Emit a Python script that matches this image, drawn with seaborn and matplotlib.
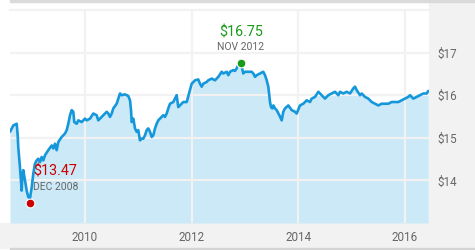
import matplotlib
matplotlib.use("Agg")
import matplotlib.pyplot as plt
import seaborn as sns
import pandas as pd
from matplotlib.patches import Rectangle

# ---- data ----
years = [2008.594, 2008.656, 2008.719, 2008.738, 2008.749, 2008.781, 2008.800, 2008.813, 2008.824, 2008.843,
         2008.875, 2008.907, 2008.937, 2008.969, 2009.001, 2009.031, 2009.062, 2009.094, 2009.124, 2009.156,
         2009.188, 2009.218, 2009.250, 2009.312, 2009.376, 2009.406, 2009.437, 2009.469, 2009.499, 2009.563,
         2009.625, 2009.657, 2009.687, 2009.719, 2009.751, 2009.781, 2009.799, 2009.844, 2009.874, 2009.938,
         2010.000, 2010.032, 2010.094, 2010.156, 2010.219, 2010.249, 2010.281, 2010.343, 2010.407, 2010.437,
         2010.469, 2010.501, 2010.531, 2010.594, 2010.624, 2010.656, 2010.688, 2010.750, 2010.812, 2010.844,
         2010.863, 2010.876, 2010.906, 2010.938, 2010.969, 2010.999, 2011.031, 2011.063, 2011.093, 2011.125,
         2011.157, 2011.187, 2011.219, 2011.251, 2011.281, 2011.313, 2011.344, 2011.374, 2011.406, 2011.438,
         2011.468, 2011.500, 2011.532, 2011.562, 2011.594, 2011.626, 2011.656, 2011.688, 2011.719, 2011.749,
         2011.781, 2011.813, 2011.843, 2011.907, 2011.937, 2011.969, 2012.001, 2012.063, 2012.124, 2012.156,
         2012.188, 2012.218, 2012.282, 2012.312, 2012.376, 2012.438, 2012.499, 2012.563, 2012.593, 2012.657,
         2012.687, 2012.719, 2012.781, 2012.813, 2012.844, 2012.875, 2012.900, 2012.938, 2012.968, 2013.000,
         2013.062, 2013.126, 2013.156, 2013.188, 2013.220, 2013.281, 2013.343, 2013.375, 2013.407, 2013.437,
         2013.469, 2013.488, 2013.512, 2013.531, 2013.563, 2013.594, 2013.656, 2013.688, 2013.718, 2013.750,
         2013.812, 2013.876, 2013.938, 2013.969, 2014.031, 2014.093, 2014.157, 2014.219, 2014.251, 2014.313,
         2014.375, 2014.438, 2014.500, 2014.562, 2014.626, 2014.688, 2014.750, 2014.781, 2014.843, 2014.907,
         2014.969, 2015.031, 2015.063, 2015.094, 2015.156, 2015.188, 2015.250, 2015.312, 2015.376, 2015.438,
         2015.500, 2015.563, 2015.625, 2015.687, 2015.751, 2015.813, 2015.875, 2015.938, 2016.000, 2016.062,
         2016.094, 2016.156, 2016.219, 2016.281, 2016.343, 2016.406, 2016.436]
prices = [15.14, 15.29, 15.33, 15.06, 14.78, 14.31, 14.00, 13.76, 14.08, 14.24,
          14.00, 13.76, 13.61, 13.58, 13.84, 14.16, 14.39, 14.47, 14.51, 14.43,
          14.55, 14.47, 14.59, 14.71, 14.82, 14.75, 14.86, 14.71, 14.90, 15.02,
          15.10, 15.18, 15.33, 15.53, 15.65, 15.61, 15.37, 15.33, 15.41, 15.37,
          15.45, 15.41, 15.45, 15.57, 15.53, 15.41, 15.45, 15.53, 15.61, 15.57,
          15.49, 15.57, 15.69, 15.80, 15.92, 16.04, 16.00, 16.02, 15.98, 15.88,
          15.65, 15.37, 15.45, 15.22, 15.14, 15.18, 14.94, 14.98, 14.98, 15.06,
          15.18, 15.22, 15.14, 15.02, 15.06, 15.22, 15.33, 15.41, 15.45, 15.49,
          15.53, 15.49, 15.57, 15.69, 15.80, 15.82, 15.84, 15.92, 16.00, 15.72,
          15.76, 15.80, 15.84, 15.84, 15.98, 16.12, 16.27, 16.35, 16.37, 16.27,
          16.20, 16.27, 16.31, 16.35, 16.39, 16.35, 16.43, 16.55, 16.51, 16.55,
          16.47, 16.55, 16.59, 16.57, 16.63, 16.71, 16.74, 16.67, 16.51, 16.55,
          16.55, 16.55, 16.51, 16.43, 16.47, 16.51, 16.55, 16.47, 16.35, 16.20,
          15.84, 15.72, 15.69, 15.76, 15.69, 15.65, 15.50, 15.41, 15.61, 15.69,
          15.76, 15.65, 15.61, 15.57, 15.76, 15.80, 15.88, 15.84, 15.92, 15.96,
          16.08, 16.00, 15.92, 16.00, 16.04, 16.08, 16.00, 16.08, 16.04, 16.08,
          16.04, 16.16, 16.20, 16.12, 16.00, 16.04, 15.96, 15.92, 15.84, 15.80,
          15.76, 15.80, 15.80, 15.80, 15.84, 15.84, 15.84, 15.88, 15.92, 15.96,
          16.00, 15.92, 15.96, 16.00, 16.04, 16.04, 16.10]

low_year, low_price = 2008.96, 13.47
low_value_label, low_date_label = "$13.47", "DEC 2008"
high_year, high_price = 2012.92, 16.75
high_value_label, high_date_label = "$16.75", "NOV 2012"

x_ticks = [2010, 2012, 2014, 2016]
x_tick_labels = ["2010", "2012", "2014", "2016"]
y_ticks = [14, 15, 16, 17]
y_tick_labels = ["$14", "$15", "$16", "$17"]

df = pd.DataFrame({"year": years, "price": prices})

# ---- style ----
sns.set_style("white")
plt.rcParams["font.family"] = ["Roboto", "DejaVu Sans"]

W, H = 475, 250
fig = plt.figure(figsize=(W / 100, H / 100), dpi=100)
fig.patch.set_facecolor("white")

panel = "#f2f2f2"
fig.patches.extend([
    Rectangle((0, 2 / H), 1, 25 / H, transform=fig.transFigure, color=panel, zorder=-5),
    Rectangle((429 / W, 2 / H), 46 / W, 246 / H, transform=fig.transFigure, color=panel, zorder=-5),
    Rectangle((10 / W, 0), 465 / W, 2 / H, transform=fig.transFigure, color="#d4d4d4", zorder=-5),
    Rectangle((10 / W, 248 / H), 465 / W, 2 / H, transform=fig.transFigure, color="#dadada", zorder=-5),
])

ax = fig.add_axes([10 / W, 27 / H, 419 / W, 213 / H])
ax.set_zorder(1)
ax.set_facecolor("white")

line_color = "#1597db"
fill_color = "#cbe9f7"

ax.fill_between(df["year"], df["price"], 13, color=fill_color, lw=0, zorder=1)
sns.lineplot(data=df, x="year", y="price", ax=ax, color=line_color, lw=1.9, zorder=3)

ax.set_xlim(2008.594, 2016.45)
ax.set_ylim(13, 18)

ax.set_xticks(x_ticks)
ax.set_xticklabels(x_tick_labels)
ax.set_yticks(y_ticks)
ax.set_yticklabels(y_tick_labels)
ax.yaxis.tick_right()
ax.tick_params(axis="both", length=0, labelsize=8.4, labelcolor="#666666")
ax.tick_params(axis="x", pad=6)
ax.tick_params(axis="y", pad=6)
ax.set_xlabel("")
ax.set_ylabel("")

ax.grid(True, color="#f2f2f2", lw=1.6, zorder=2)
ax.set_axisbelow(False)
for s in ["left", "right", "bottom"]:
    ax.spines[s].set_visible(False)
ax.spines["top"].set_color("#f2f2f2")
ax.spines["top"].set_linewidth(1.6)

# markers
sns.scatterplot(x=[low_year], y=[low_price], ax=ax, color="#cc0000", s=40,
                edgecolor="white", linewidth=0.8, zorder=5, clip_on=False, legend=False)
sns.scatterplot(x=[high_year], y=[high_price], ax=ax, color="#1a9a1a", s=40,
                edgecolor="white", linewidth=0.8, zorder=5, clip_on=False, legend=False)

ax.annotate(high_value_label, (high_year, high_price), xytext=(0, 22.5), textcoords="offset points",
            ha="center", va="center", fontsize=10.3, color="#1a9a1a", zorder=6)
ax.annotate(high_date_label, (high_year, high_price), xytext=(0, 11.5), textcoords="offset points",
            ha="center", va="center", fontsize=7.5, color="#666666", zorder=6)
ax.annotate(low_value_label, (low_year, low_price), xytext=(2.6, 22.5), textcoords="offset points",
            ha="left", va="center", fontsize=10.3, color="#cc0000", zorder=6)
ax.annotate(low_date_label, (low_year, low_price), xytext=(2.6, 11.5), textcoords="offset points",
            ha="left", va="center", fontsize=7.5, color="#666666", zorder=6)

fig.savefig("out.png", dpi=100)
